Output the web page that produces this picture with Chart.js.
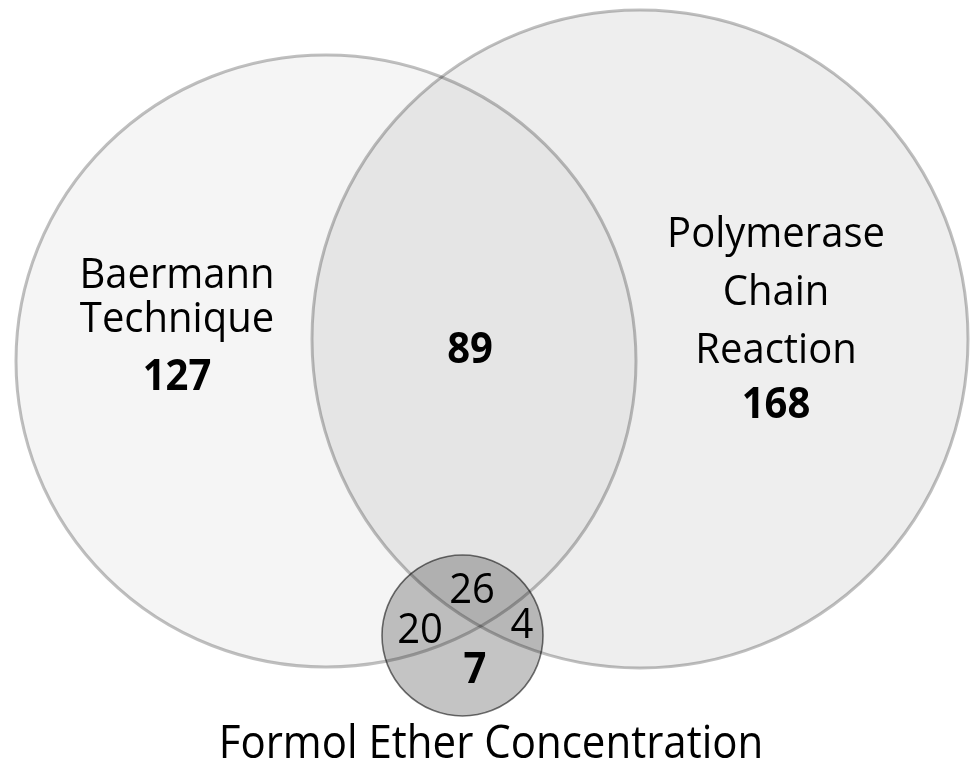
<!DOCTYPE html>
<html>
<head>
<meta charset="utf-8">
<script src="https://cdn.jsdelivr.net/npm/chart.js@4.4.1/dist/chart.umd.min.js"></script>
<style>
  body { margin: 0; background: #fff; }
  #venn { display: block; }
</style>
</head>
<body>
<canvas id="venn" width="974" height="767"></canvas>
<script>
// sets and counts
const set_names = ["Baermann Technique", "Polymerase Chain Reaction", "Formol Ether Concentration"];
const only_counts = [127, 168, 7];
const region_names = ["Baermann + PCR", "all three", "Baermann + Formol", "PCR + Formol"];
const region_counts = [89, 26, 20, 4];

// where things sit (canvas units, same as the hidden axes)
const circle_layout = [
    { cx: 326, cy: 361, rx: 310, ry: 306, fill: "rgba(0,0,0,0.04)", line: "rgba(0,0,0,0.25)", width: 3 },
    { cx: 640, cy: 339, rx: 328, ry: 329, fill: "rgba(0,0,0,0.065)", line: "rgba(0,0,0,0.25)", width: 3 },
    { cx: 462.5, cy: 635.5, rx: 80.5, ry: 80.5, fill: "rgba(0,0,0,0.23)", line: "rgba(0,0,0,0.55)", width: 1.6 }
];
const name_lines = [
    [{ t: "Baermann", x: 177, y: 288 }, { t: "Technique", x: 177, y: 332 }],
    [{ t: "Polymerase", x: 776, y: 247 }, { t: "Chain", x: 776, y: 305 }, { t: "Reaction", x: 776, y: 363 }],
    [{ t: "Formol Ether Concentration", x: 491, y: 758, size: 42 }]
];
const only_pos = [{ x: 177, y: 390 }, { x: 776, y: 418 }, { x: 475, y: 683 }];
const region_pos = [{ x: 470, y: 363, bold: true }, { x: 472, y: 603 }, { x: 420, y: 643 }, { x: 522, y: 638 }];

const font_family = "'Open Sans', 'Noto Sans', sans-serif";

const venn_plugin = {
    id: "venn",
    afterDatasetsDraw(chart) {
        const ctx = chart.ctx;
        const xs = chart.scales.x;
        const ys = chart.scales.y;
        const ellipses = circle_layout.map((c, i) => {
            const pt = chart.getDatasetMeta(i).data[0];
            return {
                x: pt.x, y: pt.y,
                rx: Math.abs(xs.getPixelForValue(c.cx + c.rx) - pt.x),
                ry: Math.abs(ys.getPixelForValue(c.cy + c.ry) - pt.y),
                c: c
            };
        });
        ctx.save();
        // fills first so overlaps darken
        for (let e of ellipses) {
            ctx.beginPath();
            ctx.ellipse(e.x, e.y, e.rx, e.ry, 0, 0, Math.PI * 2);
            ctx.fillStyle = e.c.fill;
            ctx.fill();
        }
        for (let e of ellipses) {
            ctx.beginPath();
            ctx.ellipse(e.x, e.y, e.rx, e.ry, 0, 0, Math.PI * 2);
            ctx.strokeStyle = e.c.line;
            ctx.lineWidth = e.c.width;
            ctx.stroke();
        }

        ctx.fillStyle = "#000";
        ctx.textAlign = "center";
        ctx.textBaseline = "alphabetic";
        const put = (txt, x, y, bold, size) => {
            ctx.save();
            ctx.font = (bold ? "bold " : "") + (size || 40) + "px " + font_family;
            ctx.translate(xs.getPixelForValue(x), ys.getPixelForValue(y));
            ctx.scale(1, 1.07); // the original face is a bit taller
            ctx.fillText(txt, 0, 0);
            ctx.restore();
        };
        name_lines.forEach((lines) => {
            for (let l of lines) put(l.t, l.x, l.y, false, l.size);
        });
        only_counts.forEach((v, i) => put(String(v), only_pos[i].x, only_pos[i].y, true));
        region_counts.forEach((v, i) => put(String(v), region_pos[i].x, region_pos[i].y, !!region_pos[i].bold));
        ctx.restore();
    }
};

new Chart(document.getElementById("venn"), {
    type: "scatter",
    data: {
        datasets: set_names.map((name, i) => ({
            label: name,
            data: [{ x: circle_layout[i].cx, y: circle_layout[i].cy }],
            pointRadius: 0,
            pointHoverRadius: 0
        }))
    },
    options: {
        responsive: false,
        animation: false,
        events: [],
        layout: { padding: 0 },
        plugins: {
            legend: { display: false },
            tooltip: { enabled: false }
        },
        scales: {
            x: { type: "linear", min: 0, max: 974, display: false },
            y: { type: "linear", min: 0, max: 767, reverse: true, display: false }
        }
    },
    plugins: [venn_plugin]
});
</script>
</body>
</html>
